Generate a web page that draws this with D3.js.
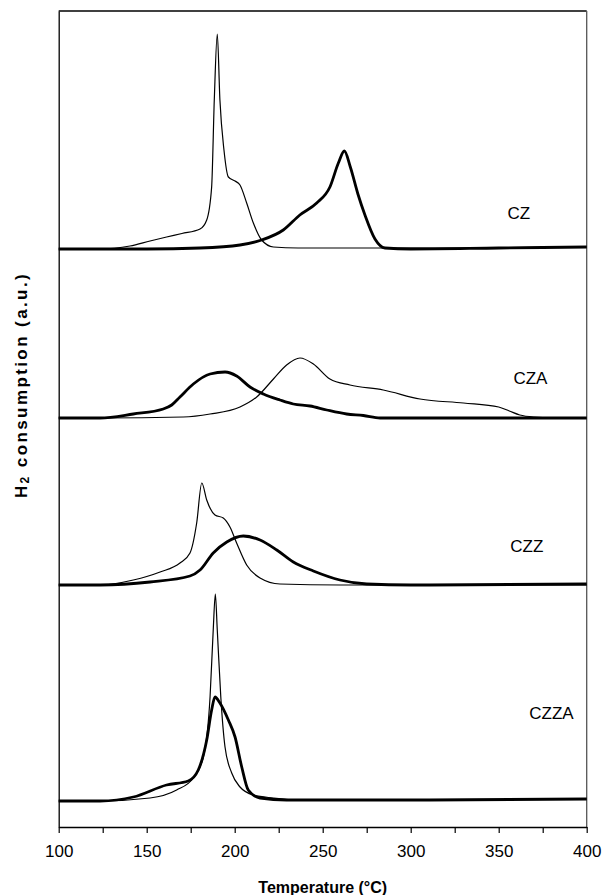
<!DOCTYPE html>
<html><head><meta charset="utf-8">
<script src="https://cdn.jsdelivr.net/npm/d3@7"></script>
<style>body{margin:0;background:#fff}svg{display:block}</style>
</head><body>
<svg id="c" width="604" height="895"></svg>
<script>
// ---- data (temperature °C, signal a.u. above each curve's own baseline) ----
const seriesNames = ["CZ", "CZA", "CZZ", "CZZA"];
const baselineOffsets = [578, 409, 242, 25];   // vertical stacking offsets (a.u.)
const xTicks = [100, 125, 150, 175, 200, 225, 250, 275, 300, 325, 350, 375, 400];
const xTickLabels = ["100", "", "150", "", "200", "", "250", "", "300", "", "350", "", "400"];

const czThin = [[100,0],[123.5,0],[140.5,3],[151.9,8],[161.3,12],[170,15.5],[180.3,20],[184.1,29],[186.9,62],[188.4,149],[190.1,215],[191.6,149],[193.9,99],[196.4,72],[200.2,68],[203,64],[206.8,46],[210.6,26],[215.3,9],[222,2],[236,1],[300,1],[400,2]];
const czThick = [[100,0],[150,0],[180.3,1],[203,4],[215.3,9],[227.6,19],[237,34],[246.6,46],[254.1,62],[258.9,86],[262.3,98],[265.7,82],[270,55],[274,34],[279.7,10],[285.4,1],[300,0],[350,1],[400,2]];
const czaThin = [[100,0],[123.5,0],[170.8,1],[186,4],[203,11],[212.5,21],[222,39],[229.5,53],[237.1,60],[244.7,54],[254.1,39],[265.5,33],[284.4,28],[305.3,19],[330,15],[350,11],[356,7],[362,3],[370,1],[385,0],[400,0]];
const czaThick = [[100,0],[123.5,0],[142.4,4],[159.4,9],[164.2,13],[168.9,21],[176.5,34],[186,44],[194.5,46],[201.1,42],[208.7,31],[216.3,24],[225.7,18],[233.3,14],[242.8,12],[252.3,8],[263.6,4],[273.1,2.5],[282.6,0],[400,0]];
const czzThin = [[100,0],[123.5,0],[142.4,5],[157.6,13],[168.9,22],[174.6,32],[178.4,62],[181.3,102],[184.1,85],[188.8,70],[193.5,67],[197.3,58],[201.1,42],[206.8,20],[214.4,7],[225.7,1],[260,0],[400,0]];
const czzThick = [[100,0],[123.5,0],[151.9,3],[174.6,9],[180.3,15],[187.8,32],[195.5,43],[204.9,49],[214.4,45],[223.9,35],[233.3,23],[244.7,14],[259.8,5],[275,1],[300,0],[400,1]];
const czzaThin = [[100,1],[123.5,1],[151.9,4],[167,12],[176.5,24],[182.2,45],[186,105],[187.8,172],[189,208],[190.1,172],[192.1,105],[194.5,55],[198.3,29],[203,15],[210.6,7],[222,4],[236.3,2],[300,2],[400,3]];
const czzaThick = [[100,1],[123.5,1],[142.4,5],[161.3,17],[173.6,21],[179.3,32],[184.1,62],[186.9,92],[188.8,105],[191.6,99],[196.4,82],[200.2,65],[204,35],[207.7,12],[214.4,4],[229.5,2],[300,2],[400,3]];

const thinSeries = [czThin, czaThin, czzThin, czzaThin];
const thickSeries = [czThick, czaThick, czzThick, czzaThick];
const labelPos = [[361.5, 614], [368, 449], [366, 281], [380, 114]];

// ---- layout ----
const svg = d3.select("#c");
const L = 58.7, R = 586.7, T = 11, B = 827;
const x = d3.scaleLinear().domain([100, 400]).range([L, R]);
const y = d3.scaleLinear().domain([0, 816]).range([B, T]);

// plot frame (top/right)
svg.append("line").attr("x1", L).attr("x2", R).attr("y1", T).attr("y2", T)
  .attr("stroke", "#000").attr("stroke-width", 1.3);
svg.append("line").attr("x1", R).attr("x2", R).attr("y1", T).attr("y2", B)
  .attr("stroke", "#555").attr("stroke-width", 1.3);

// curves
const line = d3.line().x(d => x(d[0])).y(d => y(d[1])).curve(d3.curveMonotoneX);
seriesNames.forEach((name, i) => {
  const off = baselineOffsets[i];
  const g = svg.append("g");
  g.append("path").datum(thinSeries[i].map(d => [d[0], d[1] + off]))
    .attr("d", line).attr("fill", "none").attr("stroke", "#000").attr("stroke-width", 1.2);
  g.append("path").datum(thickSeries[i].map(d => [d[0], d[1] + off]))
    .attr("d", line).attr("fill", "none").attr("stroke", "#000").attr("stroke-width", 2.8)
    .attr("stroke-linejoin", "round");
  svg.append("text").attr("x", x(labelPos[i][0])).attr("y", y(labelPos[i][1]))
    .attr("text-anchor", "middle").attr("dominant-baseline", "central")
    .attr("font-family", "Liberation Sans, Arial, sans-serif").attr("font-size", 17)
    .text(name);
});

// x axis
const xAxis = d3.axisBottom(x).tickValues(xTicks)
  .tickFormat((d, i) => xTickLabels[i]).tickSize(6).tickSizeOuter(0);
const gx = svg.append("g").attr("transform", `translate(0,${B})`).call(xAxis);
gx.select(".domain").attr("stroke", "#000").attr("stroke-width", 1.3);
gx.selectAll(".tick line").attr("stroke", "#000").attr("stroke-width", 1.2);
gx.selectAll(".tick text").attr("font-family", "Liberation Sans, Arial, sans-serif")
  .attr("font-size", 17).attr("fill", "#000").attr("dy", "1.25em");

// y axis (no ticks)
const yAxis = d3.axisLeft(y).tickValues([]).tickSizeOuter(0);
const gy = svg.append("g").attr("transform", `translate(${L},0)`).call(yAxis);
gy.select(".domain").attr("stroke", "#000").attr("stroke-width", 1.3);

// axis titles
svg.append("text").attr("x", (L + R) / 2).attr("y", 887)
  .attr("text-anchor", "middle").attr("dominant-baseline", "central")
  .attr("font-family", "Liberation Sans, Arial, sans-serif").attr("font-weight", "bold")
  .attr("font-size", 16).text("Temperature (°C)");

const yt = svg.append("text").attr("transform", "translate(21,385) rotate(-90)")
  .attr("text-anchor", "middle").attr("dominant-baseline", "central")
  .attr("font-family", "Liberation Sans, Arial, sans-serif").attr("font-weight", "bold")
  .attr("font-size", 17).attr("letter-spacing", 2.4);
yt.append("tspan").text("H");
yt.append("tspan").attr("font-size", 12).attr("dy", 4).text("2");
yt.append("tspan").attr("dy", -4).text(" consumption (a.u.)");
</script>
</body></html>
